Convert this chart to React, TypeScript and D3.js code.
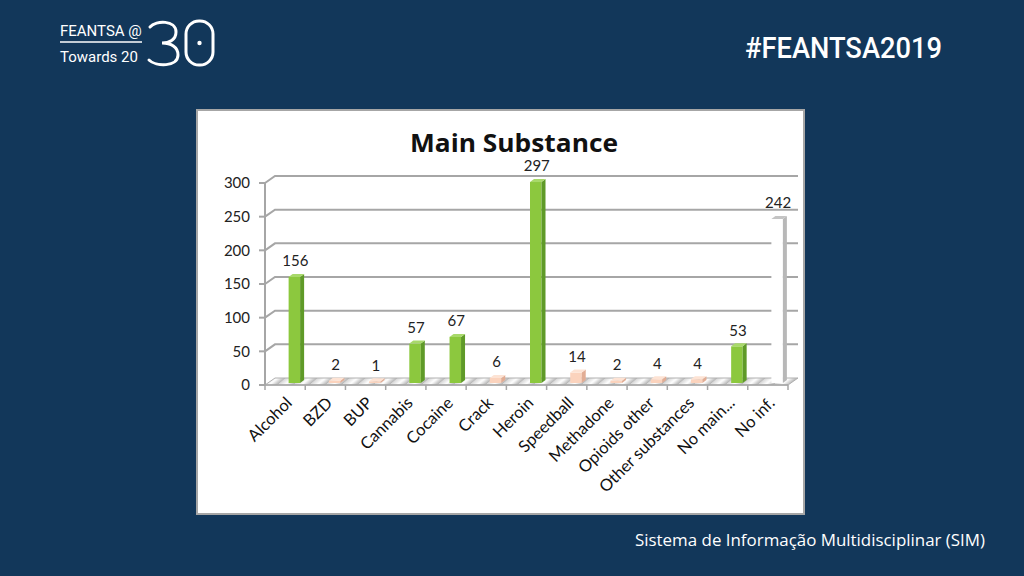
import * as d3 from 'd3'

const CATEGORIES = [
  'Alcohol',
  'BZD',
  'BUP',
  'Cannabis',
  'Cocaine',
  'Crack',
  'Heroin',
  'Speedball',
  'Methadone',
  'Opioids other',
  'Other substances',
  'No main...',
  'No inf.',
]
const VALUES = [156, 2, 1, 57, 67, 6, 297, 14, 2, 4, 4, 53, 242]
// colour group per column: g = green, p = peach, w = white
const GROUPS = ['g', 'p', 'p', 'g', 'g', 'p', 'g', 'p', 'p', 'p', 'p', 'g', 'w']
const Y_TICKS = [0, 50, 100, 150, 200, 250, 300]

const BG = '#12375a'
const FILL: Record<string, { front: string; side: string; top: string }> = {
  g: { front: '#8cc83e', side: '#5f9a28', top: '#a8d96a' },
  p: { front: '#fbd3bd', side: '#e2ad94', top: '#fde3d4' },
  w: { front: '#ffffff', side: '#b8b8b8', top: '#c4c4c4' },
}

const FONT = 'Lato, "Open Sans", sans-serif'

// plot frame (front edge of floor)
const X0 = 265
const X1 = 788
const DX = 10 // depth offset of the back wall
const DY = -7

export default function App() {
  const x = d3.scaleBand<string>().domain(CATEGORIES).range([X0, X1])
  const y = d3.scaleLinear().domain([0, 300]).range([385, 183])
  const bw = x.bandwidth()
  const barW = 11.5
  const sideW = 4
  const topH = 3

  const floorPts = [
    [X0, 385],
    [X1, 385],
    [X1 + DX, 385 + DY],
    [X0 + DX, 385 + DY],
  ]
    .map((p) => p.join(','))
    .join(' ')

  return (
    <svg
      width={1024}
      height={576}
      style={{ position: 'absolute', left: 0, top: 0, display: 'block' }}
      fontFamily={FONT}
    >
      <defs>
        <linearGradient id="stripeGrad" x1="0" x2="1" y1="0" y2="0">
          <stop offset="0" stopColor="#d6d6d6" />
          <stop offset="0.5" stopColor="#ffffff" />
          <stop offset="1" stopColor="#b4b4b4" />
        </linearGradient>
        <pattern
          id="floorStripes"
          width={16}
          height={10}
          patternUnits="userSpaceOnUse"
          patternTransform="skewX(-50)"
        >
          <rect width={16} height={10} fill="url(#stripeGrad)" />
        </pattern>
      </defs>

      <rect width={1024} height={576} fill={BG} />

      {/* header logo */}
      <g fill="#ffffff">
        <text x={60} y={36} fontSize={15} fontFamily="Roboto, sans-serif">
          FEANTSA @
        </text>
        <line x1={60} x2={142} y1={42} y2={42} stroke="#ffffff" strokeWidth={1.5} />
        <text x={60} y={62} fontSize={15} fontFamily="Roboto, sans-serif">
          Towards 20
        </text>
        <path
          d="M150,27 C156,20 176,20 176,32 C176,40 169,43 162,43 C171,43 178,47 178,55 C178,67 156,67 149,60"
          fill="none"
          stroke="#ffffff"
          strokeWidth={3}
          strokeLinecap="round"
        />
        <rect
          x={186}
          y={21}
          width={27}
          height={44}
          rx={13}
          fill="none"
          stroke="#ffffff"
          strokeWidth={3}
        />
        <circle cx={199.5} cy={43} r={2.2} />
        <text
          x={745}
          y={58}
          fontSize={30}
          fontWeight={500}
          fontFamily="Roboto, sans-serif"
          textLength={197}
          lengthAdjust="spacingAndGlyphs"
        >
          #FEANTSA2019
        </text>
        <text
          x={635}
          y={546}
          fontSize={16}
          fontFamily='"Open Sans", sans-serif'
          textLength={350}
          lengthAdjust="spacingAndGlyphs"
        >
          Sistema de Informação Multidisciplinar (SIM)
        </text>
      </g>

      {/* chart panel */}
      <rect x={197} y={110} width={607} height={404} fill="#ffffff" stroke="#a6a6a6" strokeWidth={2} />

      <text
        x={514}
        y={152}
        textAnchor="middle"
        fontSize={25}
        fontWeight={700}
        fill="#111"
        fontFamily='"Open Sans", sans-serif'
        textLength={208}
        lengthAdjust="spacingAndGlyphs"
      >
        Main Substance
      </text>

      {/* back wall gridlines */}
      <g stroke="#a6a6a6" strokeWidth={2} fill="none">
        {Y_TICKS.filter((t) => t > 0).map((t) => (
          <path key={t} d={`M${X0},${y(t)}L${X0 + DX},${y(t) + DY}H${X1 + DX}`} />
        ))}
        <line x1={X0} x2={X0} y1={y(300)} y2={385} />
        {Y_TICKS.map((t) => (
          <line key={'tk' + t} x1={X0 - 6} x2={X0} y1={y(t)} y2={y(t)} />
        ))}
      </g>

      {/* floor */}
      <polygon points={floorPts} fill="url(#floorStripes)" stroke="#b0b0b0" strokeWidth={1} />
      <g stroke="#a6a6a6" strokeWidth={1.5}>
        <line x1={X0 - 6} x2={X1} y1={385} y2={385} />
        {d3.range(CATEGORIES.length + 1).map((i) => (
          <line key={i} x1={X0 + i * bw} x2={X0 + i * bw} y1={385} y2={390} />
        ))}
      </g>

      {/* y tick labels */}
      <g fontSize={15} fill="#222" textAnchor="end">
        {Y_TICKS.map((t) => (
          <text key={t} x={250} y={y(t)} dy="0.35em">
            {t}
          </text>
        ))}
      </g>

      {/* bars */}
      {CATEGORIES.map((c, i) => {
        const col = FILL[GROUPS[i]]
        const left = (x(c) as number) + bw / 2 + 3.5
        const right = left + barW
        const top = y(VALUES[i]) - 3
        const bottom = 383
        return (
          <g key={c}>
            <rect x={left} y={top} width={barW} height={bottom - top} fill={col.front} />
            <polygon
              points={`${right},${top} ${right + sideW},${top - topH} ${right + sideW},${bottom - topH} ${right},${bottom}`}
              fill={col.side}
            />
            <polygon
              points={`${left},${top} ${left + sideW},${top - topH} ${right + sideW},${top - topH} ${right},${top}`}
              fill={col.top}
            />
            <text
              x={left + barW / 2 + 1}
              y={top - 16}
              dy="0.35em"
              textAnchor="middle"
              fontSize={15}
              fill="#222"
            >
              {VALUES[i]}
            </text>
          </g>
        )
      })}

      {/* category labels */}
      <g fontSize={16.5} fill="#111" textAnchor="end">
        {CATEGORIES.map((c) => {
          const cx = (x(c) as number) + bw / 2 + 8
          const cy = 404
          return (
            <text key={c} transform={`translate(${cx},${cy}) rotate(-45)`}>
              {c}
            </text>
          )
        })}
      </g>
    </svg>
  )
}
